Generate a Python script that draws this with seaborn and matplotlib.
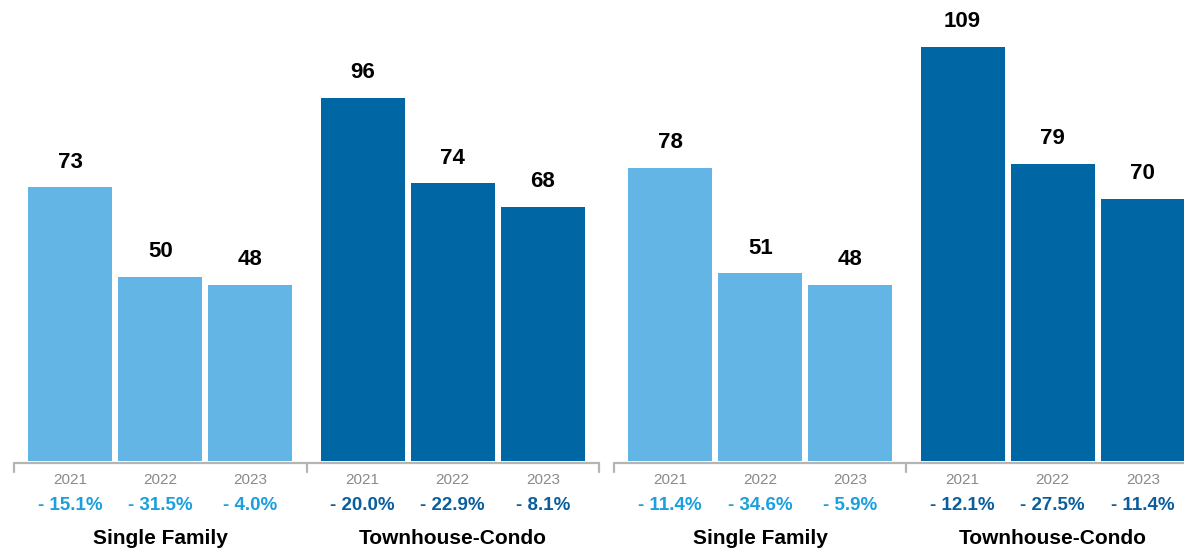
import numpy as np
import pandas as pd
import seaborn as sns
import matplotlib.pyplot as plt

# data
years = ["2021", "2022", "2023"]
groups = ["Single Family", "Townhouse-Condo"]
left_sf = [73, 50, 48]
left_tc = [96, 74, 68]
right_sf = [78, 51, 48]
right_tc = [109, 79, 70]
left_sf_pct = [-15.1, -31.5, -4.0]
left_tc_pct = [-20.0, -22.9, -8.1]
right_sf_pct = [-11.4, -34.6, -5.9]
right_tc_pct = [-12.1, -27.5, -11.4]

bar_colors = {"Single Family": "#63b5e5", "Townhouse-Condo": "#0066a4"}
pct_colors = {"Single Family": "#1a9fdf", "Townhouse-Condo": "#0a5e9e"}

sns.set_style("white")
plt.rcParams['font.family'] = ['Liberation Sans', 'DejaVu Sans']

W, H = 1184, 553
AX_H = 461  # axes height in px, bottom edge at y=461
fig = plt.figure(figsize=(W / 100, H / 100), dpi=100)

GAP = 3.244  # group offset in bar units


def fy(ypx):
    # pixel y (from top) -> axes fraction
    return (AX_H - ypx) / AX_H


def panel(left_px, sf, tc, sf_pct, tc_pct):
    ax = fig.add_axes([left_px / W, (H - AX_H) / H, 585 / W, AX_H / H])
    rows = []
    for g, (vals, pcts) in enumerate([(sf, sf_pct), (tc, tc_pct)]):
        for i, (v, p) in enumerate(zip(vals, pcts)):
            rows.append({"pos": g * GAP + i, "value": v, "pct": p,
                         "year": years[i], "group": groups[g]})
    df = pd.DataFrame(rows)
    sns.barplot(data=df, x="pos", y="value", hue="group", palette=bar_colors,
                native_scale=True, dodge=False, width=0.933, linewidth=0,
                saturation=1, legend=False, ax=ax)
    ax.set_xlim(-0.622, 2 * GAP - 0.622)
    ax.set_ylim(2.8, 2.8 + AX_H / 3.9)
    ax.axis("off")

    tr = ax.get_xaxis_transform()
    for _, r in df.iterrows():
        ax.annotate(str(r["value"]), (r["pos"], r["value"]), xytext=(0, 14),
                    textcoords="offset points", ha="center", va="baseline",
                    fontsize=16, fontweight="bold", color="black")
        ax.text(r["pos"], fy(484), r["year"], transform=tr, ha="center",
                va="baseline", fontsize=11, color="#8a8a8a")
        ax.text(r["pos"], fy(510.5), "- %.1f%%" % abs(r["pct"]), transform=tr,
                ha="center", va="baseline", fontsize=13.5, fontweight="bold",
                color=pct_colors[r["group"]])
    for g in range(2):
        ax.text(g * GAP + 1, fy(544), groups[g], transform=tr, ha="center",
                va="baseline", fontsize=15, fontweight="bold", color="black")

    # axis line with group ticks
    x0, x1 = -0.622, 2 * GAP - 0.622
    ax.plot([x0, x1], [fy(463), fy(463)], transform=tr, color="#b5b5b5",
            lw=1.6, clip_on=False)
    for xt in [x0, GAP - 0.622, x1]:
        ax.plot([xt, xt], [fy(463), fy(472)], transform=tr, color="#b5b5b5",
                lw=1.6, clip_on=False)


panel(14, left_sf, left_tc, left_sf_pct, left_tc_pct)
panel(614, right_sf, right_tc, right_sf_pct, right_tc_pct)

fig.savefig("out.png", dpi=100)
